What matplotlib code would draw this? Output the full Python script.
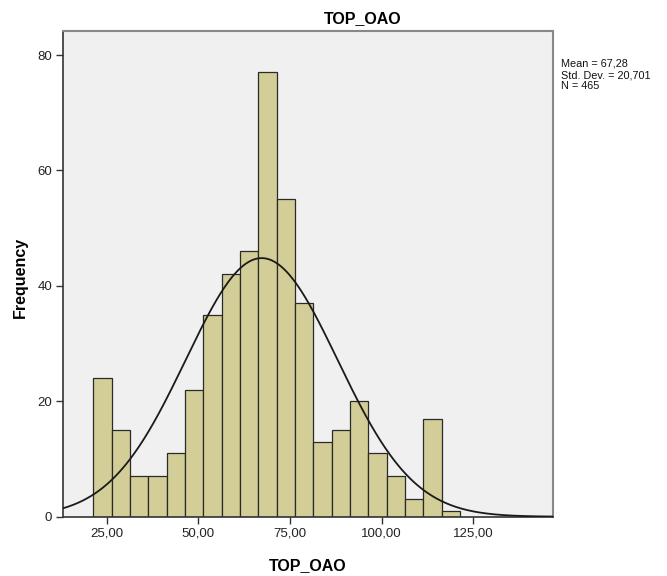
import numpy as np
import matplotlib
matplotlib.use("Agg")
import matplotlib.pyplot as plt

plt.rcParams['font.family'] = ['Liberation Sans', 'DejaVu Sans']

# Data
bin_start = 21.35
bin_width = 5.0
counts = [24, 15, 7, 7, 11, 22, 35, 42, 46, 77, 55, 37, 13, 15, 20, 11, 7, 3, 17, 1]
mean = 67.28
std = 20.701
n = 465
xticks = [25, 50, 75, 100, 125]
xtick_labels = ["25,00", "50,00", "75,00", "100,00", "125,00"]
yticks = [0, 20, 40, 60, 80]
title = "TOP_OAO"
stats_lines = ["Mean = 67,28", "Std. Dev. = 20,701", "N = 465"]

W, H = 667, 576
fig = plt.figure(figsize=(W/100, H/100), dpi=100)
ax = fig.add_axes([63.3/W, 1-516.7/H, (553.3-63.3)/W, (516.7-30.5)/H])
ax.set_facecolor('#F0F0F0')

edges = bin_start + bin_width*np.arange(len(counts))
ax.bar(edges, counts, width=bin_width, align='edge', color='#D3CE97',
       edgecolor='#2a2a2a', linewidth=0.9, zorder=2)

xmin, xmax = 13.2, 146.8
xs = np.linspace(xmin, xmax, 500)
ys = n*bin_width/(std*np.sqrt(2*np.pi))*np.exp(-0.5*((xs-mean)/std)**2)
ax.plot(xs, ys, color='#1a1a1a', linewidth=1.3, zorder=3)

ax.set_xlim(xmin, xmax)
ax.set_ylim(0, 80.0*(516.7-30.5)/(516.7-55))
ax.set_xticks(xticks)
ax.set_xticklabels(xtick_labels)
ax.set_yticks(yticks)
ax.tick_params(axis='both', direction='out', length=5, width=1, color='#333333',
               labelsize=9.5, labelcolor='#222222', pad=3)

for side in ['left', 'bottom']:
    ax.spines[side].set_color('#333333')
    ax.spines[side].set_linewidth(1.2)
for side in ['top', 'right']:
    ax.spines[side].set_color('#888888')
    ax.spines[side].set_linewidth(1.5)

fig.text(363/W, 1-23/H, title, fontsize=11.5, fontweight='bold',
         ha='center', va='baseline')
fig.text(308/W, 1-570/H, title, fontsize=11.5, fontweight='bold',
         ha='center', va='baseline')
fig.text(20/W, 1-277/H, "Frequency", fontsize=11.5, fontweight='bold',
         ha='center', va='center', rotation=90)

for i, line in enumerate(stats_lines):
    fig.text(561/W, 1-(67+11*i)/H, line, fontsize=7.8, ha='left',
             va='baseline', color='#111111')

fig.savefig("out.png", dpi=100)
